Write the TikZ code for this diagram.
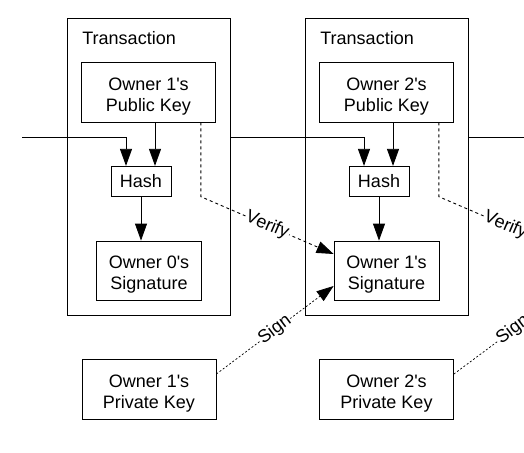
\documentclass[tikz,border=0pt]{standalone}
\usepackage{fontspec}
\setmainfont{Liberation Sans}
\usetikzlibrary{arrows.meta}

\begin{document}
\begin{tikzpicture}[x=1pt, y=-1pt, line width=0.8pt, font=\fontsize{18}{21}\selectfont]
\tikzstyle{frame}=[draw, minimum width=163pt, minimum height=297pt]
\tikzstyle{keybox}=[draw, align=center, inner sep=0pt, minimum width=134pt, minimum height=60pt, text height=38.8pt, text depth=0pt]
\tikzstyle{sigbox}=[keybox, minimum width=105pt, minimum height=59pt]
\tikzstyle{hashbox}=[draw, inner sep=0pt, minimum width=60pt, minimum height=30pt]
\tikzstyle{arr}=[-{Triangle[length=17pt,width=12pt]}]
\tikzstyle{verifyline}=[arr, line width=0.9pt, dash pattern=on 3pt off 3pt]
\tikzstyle{signline}=[arr, line width=0.7pt, dash pattern=on 2pt off 2pt]
\tikzstyle{edgetext}=[sloped, fill=white, inner sep=1pt]
  \useasboundingbox (0,0) rectangle (524,452);
  \clip (0,0) rectangle (524,452);
  \foreach \place/\name in {{(148.5,166.8)/trans1},
                            {(386.5,166.8)/trans2}}
    \node[frame] (\name) at \place {};
  \foreach \place/\name in {{(82,45)/title1},
                            {(320,45)/title2}}
    \node[anchor=base west, inner sep=0pt] (\name) at \place {Transaction};
  \foreach \place/\name/\who in {{(148.5,92)/pubkey1/1},
                                 {(386.5,92)/pubkey2/2}}
    \node[keybox] (\name) at \place {Owner \who\textquotesingle s\\Public Key};
  \foreach \place/\name in {{(141,181.3)/hash1},
                            {(379,181.3)/hash2}}
    \node[hashbox] (\name) at \place {Hash};
  \foreach \place/\name/\who in {{(149,270.5)/sig0/0},
                                 {(386.5,270.5)/sig1/1}}
    \node[sigbox] (\name) at \place {Owner \who\textquotesingle s\\Signature};
  \foreach \place/\name/\who in {{(149,389.5)/privkey1/1},
                                 {(386.5,389.5)/privkey2/2}}
    \node[keybox] (\name) at \place {Owner \who\textquotesingle s\\Private Key};
  \coordinate (chainin) at (22,137);
  \coordinate (chainout) at (530,137);
  \coordinate (verify3) at (572,254);
  \coordinate (sign3) at (572,286);
  \draw[arr] (chainin) -| ([xshift=-15pt]hash1.north);
  \draw[arr] (trans1.east |- chainin) -| ([xshift=-15pt]hash2.north);
  \draw (trans2.east |- chainin) -- (chainout);
  \foreach \source/\dest in {pubkey1/hash1,pubkey2/hash2}
      \draw[arr] ([xshift=14pt]\dest.north |- \source.south) -- ([xshift=14pt]\dest.north);
  \foreach \source/\dest in {hash1/sig0,hash2/sig1}
      \draw[arr] (\source) -- (\source |- \dest.north);
  \draw[verifyline] ([xshift=-15pt]pubkey1.south east) -- ([xshift=-15pt]pubkey1.south east |- hash1.south)
      -- node[edgetext] {Verify} ([yshift=16.5pt]sig1.west);
  \draw[verifyline] ([xshift=-15pt]pubkey2.south east) -- ([xshift=-15pt]pubkey2.south east |- hash2.south)
      -- node[edgetext] {Verify} (verify3);
  \draw[signline] ([yshift=15.5pt]privkey1.east) -- node[edgetext] {Sign} ([yshift=-15.5pt]sig1.west);
  \draw[signline] ([yshift=15.5pt]privkey2.east) -- node[edgetext] {Sign} (sign3);
\end{tikzpicture}
\end{document}
